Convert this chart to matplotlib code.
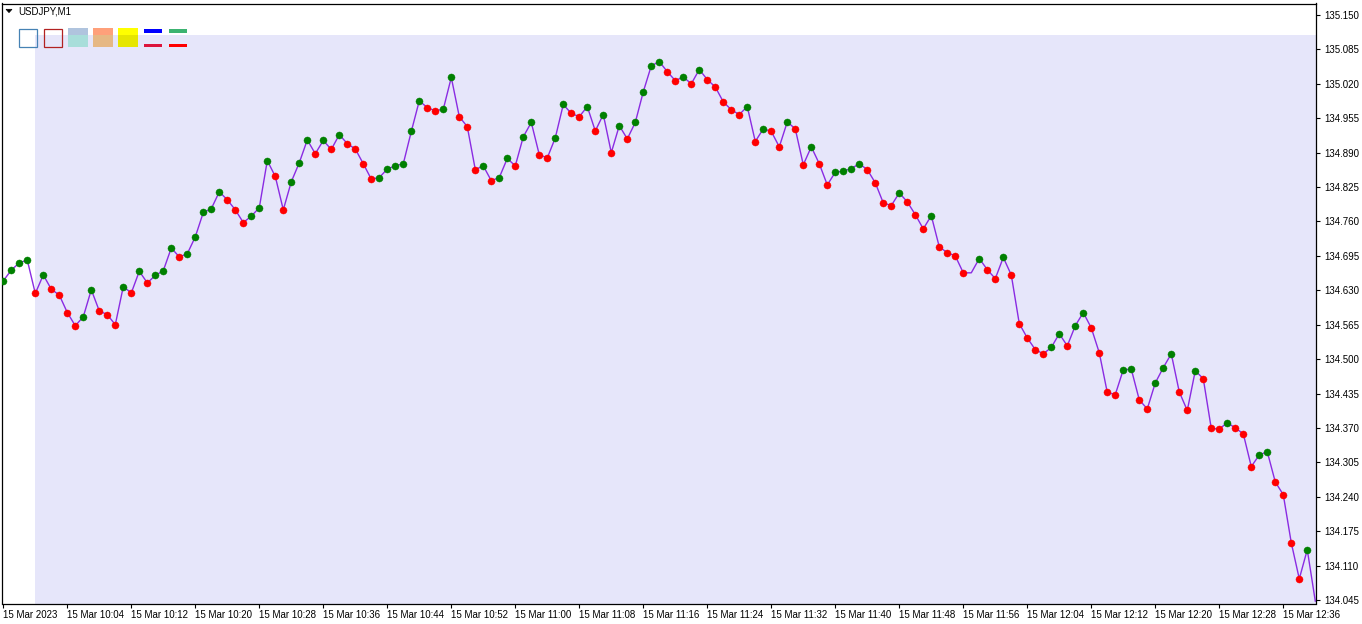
import matplotlib
matplotlib.use("Agg")
import matplotlib.pyplot as plt
from matplotlib.patches import Rectangle, Polygon

# ---------------- data ----------------
symbol = "USDJPY,M1"

close = [
    134.648, 134.668, 134.682, 134.687, 134.624, 134.659, 134.632, 134.621, 134.588, 134.563,
    134.580, 134.631, 134.591, 134.584, 134.565, 134.637, 134.625, 134.666, 134.644, 134.658,
    134.667, 134.710, 134.693, 134.699, 134.731, 134.777, 134.784, 134.816, 134.801, 134.782,
    134.758, 134.770, 134.786, 134.875, 134.845, 134.782, 134.835, 134.871, 134.914, 134.888,
    134.913, 134.896, 134.924, 134.907, 134.897, 134.869, 134.840, 134.843, 134.859, 134.865,
    134.869, 134.930, 134.988, 134.975, 134.969, 134.972, 135.032, 134.958, 134.939, 134.858,
    134.865, 134.837, 134.843, 134.879, 134.865, 134.920, 134.947, 134.886, 134.880, 134.918,
    134.981, 134.964, 134.958, 134.977, 134.931, 134.962, 134.890, 134.941, 134.916, 134.947,
    135.005, 135.054, 135.062, 135.043, 135.026, 135.033, 135.020, 135.047, 135.028, 135.014,
    134.986, 134.971, 134.962, 134.977, 134.911, 134.935, 134.930, 134.901, 134.948, 134.935,
    134.867, 134.901, 134.869, 134.829, 134.853, 134.855, 134.860, 134.869, 134.858, 134.833,
    134.795, 134.790, 134.814, 134.797, 134.773, 134.746, 134.771, 134.712, 134.701, 134.695,
    134.663, 134.663, 134.690, 134.669, 134.652, 134.692, 134.659, 134.567, 134.540, 134.518,
    134.510, 134.522, 134.548, 134.525, 134.563, 134.588, 134.559, 134.512, 134.437, 134.433,
    134.480, 134.481, 134.423, 134.406, 134.455, 134.484, 134.510, 134.438, 134.403, 134.478,
    134.463, 134.369, 134.368, 134.380, 134.370, 134.359, 134.297, 134.319, 134.325, 134.268,
    134.244, 134.153, 134.085, 134.140, 134.043,
]

# u = up bar (green dot), d = down bar (red dot), n = no dot
direction = (
    "uuuududddd" "uudddududu" "uuduuuuudd" "duuudduuud" "ududddduuu"
    "uuudduuddd" "uduuduuddu" "uddudududu" "uuuddududd" "dddududdud"
    "dudduuuudd" "dduddduddd" "dnuddudddd" "duuduudddd" "uudduuuddu"
    "ddduddduud" "dddun"
)

time_tick_bars = [0, 8, 16, 24, 32, 40, 48, 56, 64, 72, 80, 88, 96, 104, 112, 120,
                  128, 136, 144, 152, 160]
time_tick_labels = [
    "15 Mar 2023", "15 Mar 10:04", "15 Mar 10:12", "15 Mar 10:20", "15 Mar 10:28",
    "15 Mar 10:36", "15 Mar 10:44", "15 Mar 10:52", "15 Mar 11:00", "15 Mar 11:08",
    "15 Mar 11:16", "15 Mar 11:24", "15 Mar 11:32", "15 Mar 11:40", "15 Mar 11:48",
    "15 Mar 11:56", "15 Mar 12:04", "15 Mar 12:12", "15 Mar 12:20", "15 Mar 12:28",
    "15 Mar 12:36",
]

price_ticks = [134.045, 134.110, 134.175, 134.240, 134.305, 134.370, 134.435, 134.500,
               134.565, 134.630, 134.695, 134.760, 134.825, 134.890, 134.955, 135.020,
               135.085, 135.150]

session_start_bar = 4
session_top_price = 135.112

# ---------------- figure ----------------
W, H = 1362, 624
fig = plt.figure(figsize=(W / 100, H / 100), dpi=100)
fig.patch.set_facecolor("white")

FONT = "Liberation Sans"
left_px, right_px, top_px, bottom_px = 2.3, 1316.0, 3.5, 603.5
ax = fig.add_axes([left_px / W, 1 - bottom_px / H,
                   (right_px - left_px) / W, (bottom_px - top_px) / H])
ax.set_facecolor("white")

x = list(range(len(close)))
ax.set_xlim(-0.125, 164.09)
ax.set_ylim(134.0384, 135.1717)

# session background
ax.add_patch(Rectangle((session_start_bar - 0.04, 133.0), 200, session_top_price - 133.0,
                       facecolor="#E6E6FA", edgecolor="none", zorder=0))

ax.plot(x, close, color="#8A2BE2", lw=1.0, zorder=2)

colors = {"u": "#008000", "d": "#FF0000"}
for key, col in colors.items():
    xs = [i for i, d in enumerate(direction) if d == key]
    ys = [close[i] for i in xs]
    ax.scatter(xs, ys, s=26, color=col, edgecolors=col, linewidths=0.3, zorder=3)

for sp in ax.spines.values():
    sp.set_color("black")
    sp.set_linewidth(0.9)

ax.yaxis.tick_right()
ax.set_yticks(price_ticks)
ax.set_yticklabels([f"{p:.3f}" for p in price_ticks], fontsize=7, family=FONT)
ax.tick_params(axis="y", direction="out", length=3, pad=3, width=0.8, colors="black")

ax.set_xticks(time_tick_bars)
ax.set_xticklabels(time_tick_labels, fontsize=7, family=FONT, ha="left")
ax.tick_params(axis="x", direction="out", length=3, pad=1.5, width=0.8, colors="black")

# ---------------- header overlay ----------------
ov = fig.add_axes([0, 0, 1, 1], zorder=10)
ov.set_xlim(0, W)
ov.set_ylim(H, 0)
ov.axis("off")
ov.patch.set_alpha(0)

ov.add_patch(Polygon([(6, 9.3), (12, 9.3), (9, 12.6)], closed=True,
                     facecolor="black", edgecolor="black", lw=0.5))
ov.text(18.3, 11.0, symbol, fontsize=7, family=FONT, va="center", ha="left", color="black")

ov.add_patch(Rectangle((18.8, 28.8), 18.5, 18.5, fill=False, edgecolor="#4682B4", lw=0.9))
ov.add_patch(Rectangle((43.8, 28.8), 18.5, 18.5, fill=False, edgecolor="#B22222", lw=0.9))
two_tone = [(68.3, "#B0C4DE", "#A8DEDA"), (93.3, "#FFA07A", "#E6B884"),
            (118.3, "#FFFF00", "#E6E600")]
for x0, top_c, bot_c in two_tone:
    ov.add_patch(Rectangle((x0, 28.3), 19.4, 6.7, facecolor=top_c, edgecolor="none"))
    ov.add_patch(Rectangle((x0, 35.0), 19.4, 12.3, facecolor=bot_c, edgecolor="none"))
bars = [(144, 29.0, "#0000FF"), (144, 43.7, "#DC143C"),
        (169, 29.0, "#3CB371"), (169, 43.7, "#FF0000")]
for x0, y0, c in bars:
    ov.add_patch(Rectangle((x0, y0), 18, 3.6, facecolor=c, edgecolor="none"))

fig.savefig("out.png", dpi=100)
